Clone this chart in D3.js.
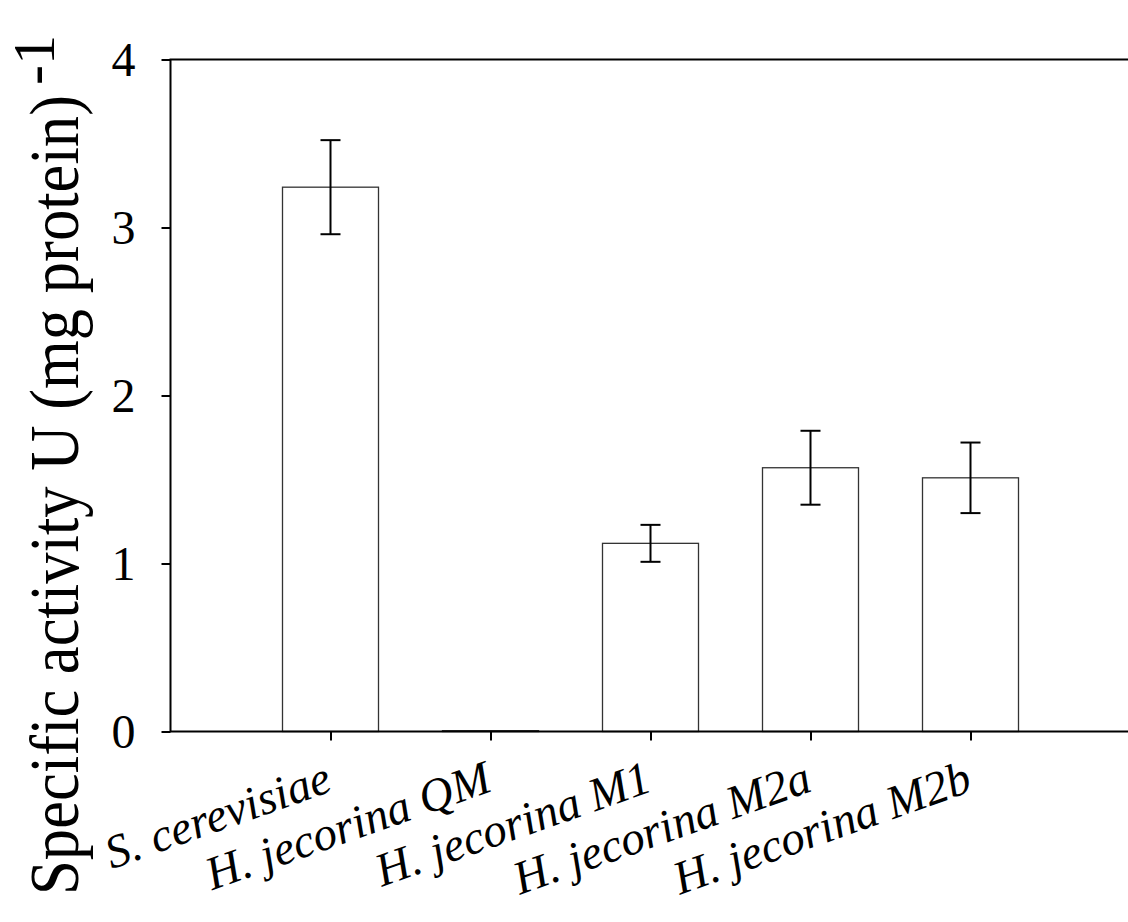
<!DOCTYPE html>
<html><head><meta charset="utf-8">
<script src="https://cdn.jsdelivr.net/npm/d3@7"></script>
<style>html,body{margin:0;padding:0;background:#fff;}svg{display:block;} text{font-family:"Liberation Serif","Times New Roman",Times,serif;}</style>
</head><body>
<svg id="chart" width="1128" height="922"></svg>
<script>
const categories = ["S. cerevisiae", "H. jecorina QM", "H. jecorina M1", "H. jecorina M2a", "H. jecorina M2b"];
const values = [3.24, 0.005, 1.12, 1.57, 1.51];
const errors = [0.28, 0, 0.11, 0.22, 0.21];
const yTicks = [0, 1, 2, 3, 4];

const svg = d3.select("#chart");
const L = 170.5, R = 1130.5, T = 59.5, B = 731.5;

const x = d3.scalePoint().domain(categories).range([L, R]).padding(1);
const y = d3.scaleLinear().domain([0, 4]).range([B, T]);
const barW = 96;

// bars
svg.append("g").selectAll("rect").data(categories).join("rect")
  .attr("x", d => x(d) - barW / 2)
  .attr("y", (d, i) => y(values[i]))
  .attr("width", barW)
  .attr("height", (d, i) => B - y(values[i]))
  .attr("fill", "#fff").attr("stroke", "#333").attr("stroke-width", 1.3);

// error bars
const eb = svg.append("g").attr("stroke", "#000").attr("stroke-width", 2);
categories.forEach((c, i) => {
  if (!errors[i]) return;
  const cx = x(c), hi = y(values[i] + errors[i]), lo = y(values[i] - errors[i]);
  eb.append("line").attr("x1", cx).attr("x2", cx).attr("y1", hi).attr("y2", lo);
  eb.append("line").attr("x1", cx - 10).attr("x2", cx + 10).attr("y1", hi).attr("y2", hi);
  eb.append("line").attr("x1", cx - 10).attr("x2", cx + 10).attr("y1", lo).attr("y2", lo);
});

// frame
svg.append("rect").attr("x", L).attr("y", T).attr("width", R - L).attr("height", B - T)
  .attr("fill", "none").attr("stroke", "#000").attr("stroke-width", 2);

// y axis
const yAxis = svg.append("g").attr("transform", `translate(${L},0)`)
  .call(d3.axisLeft(y).tickValues(yTicks).tickFormat(d3.format("d")).tickSize(9).tickPadding(26));
yAxis.select(".domain").remove();
yAxis.selectAll(".tick line").attr("stroke", "#000").attr("stroke-width", 2);
yAxis.selectAll(".tick text").style("font-family", '"Liberation Serif",serif').attr("font-size", 48).attr("fill", "#000").attr("dy", "0.34em");

// x axis
const xAxis = svg.append("g").attr("transform", `translate(0,${B})`)
  .call(d3.axisBottom(x).tickSize(9).tickFormat(""));
xAxis.select(".domain").remove();
xAxis.selectAll(".tick line").attr("stroke", "#000").attr("stroke-width", 2);
xAxis.selectAll(".tick").append("text")
  .style("font-family", '"Liberation Serif",serif').style("font-style", "italic").attr("font-size", 47)
  .attr("fill", "#000").attr("text-anchor", "end")
  .attr("transform", "translate(3,59) rotate(-19.5)")
  .text(d => d);

// y title
const yt = svg.append("text")
  .attr("transform", "translate(78,895) rotate(-90)")
  .style("font-family", '"Liberation Serif",serif').attr("font-size", 70).attr("fill", "#000");
yt.append("tspan").attr("textLength", 800).attr("lengthAdjust", "spacingAndGlyphs").text("Specific activity U (mg protein)");
yt.append("tspan").attr("dx", 10).attr("dy", -24).attr("font-size", 60).text("-1");
</script>
</body></html>
